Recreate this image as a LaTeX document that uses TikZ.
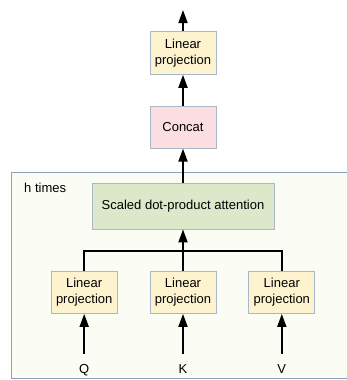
\documentclass[tikz,border=0pt]{standalone}
\usepackage{fontspec}
\setmainfont{Liberation Sans}
\usetikzlibrary{positioning}
\usetikzlibrary{arrows.meta}
\definecolor{lightYellow}{HTML}{fdf3cf}
\definecolor{lightPink}{HTML}{fcdde0}
\definecolor{lightGreen}{HTML}{dde8cb}
\definecolor{boxBorder}{HTML}{a9b8c8}
\definecolor{headBg}{HTML}{fbfcf3}
\definecolor{headBorder}{HTML}{8aa3bd}
\tikzset{
    block/.style={rectangle, draw=boxBorder, line width=0.8pt, align=center, inner sep=0pt, font=\fontsize{13}{16}\selectfont},
    projbox/.style={block, fill=lightYellow, minimum width=66pt, minimum height=42pt},
    flow/.style={-{Triangle[length=13pt,width=9pt]}, line width=1.8pt},
}
\begin{document}
\begin{tikzpicture}[x=1pt, y=-1pt]
    \useasboundingbox (0,0) rectangle (346,380);

    \node (heads) [draw=headBorder, fill=headBg, line width=0.8pt, minimum width=345pt, minimum height=206pt, anchor=north west] at (11,172) {};
    \node (label_h) [anchor=west, inner sep=0pt, font=\fontsize{13}{16}\selectfont] at (24,188) {h times};

    \node (proj_k) [projbox] at (183,292.5) {Linear\\projection};
    \node (proj_q) [projbox, left=32pt of proj_k] {Linear\\projection};
    \node (proj_v) [projbox, right=32pt of proj_k] {Linear\\projection};

    \node (in_q) [inner sep=0pt, font=\fontsize{13}{16}\selectfont, below=50pt of proj_q] {Q};
    \node (in_k) [inner sep=0pt, font=\fontsize{13}{16}\selectfont, below=50pt of proj_k] {K};
    \node (in_v) [inner sep=0pt, font=\fontsize{13}{16}\selectfont, below=50pt of proj_v] {V};

    \node (attention) [block, fill=lightGreen, minimum width=182pt, minimum height=46pt] at (183,206) {Scaled dot-product attention};
    \node (concat) [block, fill=lightPink, minimum width=66pt, minimum height=42pt, above=34pt of attention] {Concat};
    \node (proj_out) [projbox, minimum height=43pt, above=31pt of concat] {Linear\\projection};
    \coordinate [above=21pt of proj_out] (output);
    \coordinate (bus) at (183,251);

    \draw [flow] ([yshift=10pt]in_q.north) -- (proj_q.south);
    \draw [flow] ([yshift=10pt]in_k.north) -- (proj_k.south);
    \draw [flow] ([yshift=10pt]in_v.north) -- (proj_v.south);

    \draw [line width=1.8pt] (proj_q.north) |- (bus) -| (proj_v.north);
    \draw [flow] (proj_k.north) -- (attention.south);
    \draw [flow] (attention.north) -- (concat.south);
    \draw [flow] (concat.north) -- (proj_out.south);
    \draw [flow] (proj_out.north) -- (output);
\end{tikzpicture}
\end{document}
